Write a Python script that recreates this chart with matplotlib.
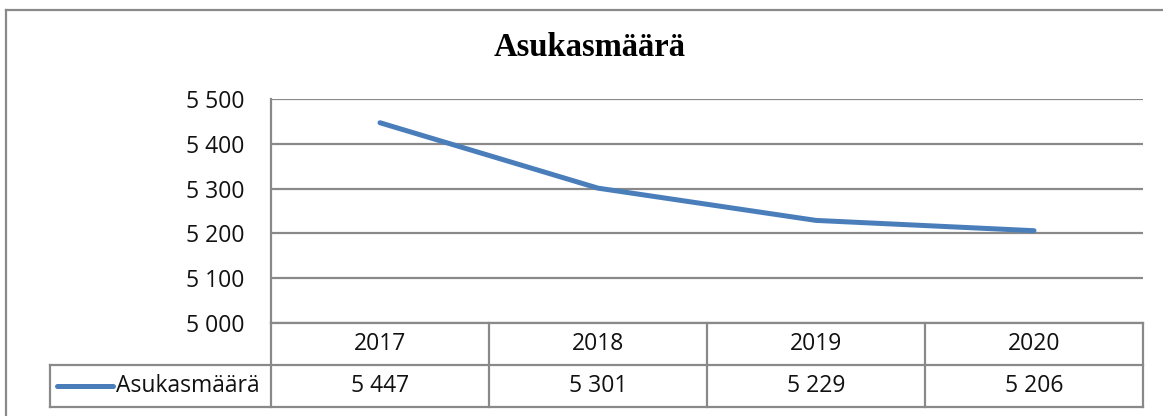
import matplotlib
matplotlib.use("Agg")
import matplotlib.pyplot as plt
from matplotlib.lines import Line2D
from matplotlib.transforms import blended_transform_factory

# data
years = ["2017", "2018", "2019", "2020"]
population = [5447, 5301, 5229, 5206]
series_name = "Asukasmäärä"
title = "Asukasmäärä"

W, H = 1163, 416
grid_col = "#898989"
line_col = "#4A7EBB"
sans = "Open Sans"
txt_col = "#111111"
fs = 16.5


def fmt(v):
    return f"{int(v):,}".replace(",", " ")


fig = plt.figure(figsize=(W / 100, H / 100), dpi=100)
fig.patch.set_facecolor("white")

# plot area in pixels: left 271, right 1143, top 99, bottom 323
ax = fig.add_axes([271 / W, (H - 323) / H, 872 / W, 224 / H])
x = list(range(len(years)))
ax.plot(x, population, color=line_col, lw=3.6, solid_capstyle="round",
        solid_joinstyle="round", zorder=3)

ax.set_xlim(-0.5, len(years) - 0.5)
ax.set_ylim(5000, 5500)
ax.set_yticks(range(5000, 5501, 100))
ax.set_yticklabels([fmt(v) for v in range(5000, 5501, 100)],
                   fontfamily=sans, fontsize=fs, color=txt_col)
ax.set_xticks([])
ax.tick_params(axis="y", length=0, pad=19)
for s in ["top", "right", "bottom"]:
    ax.spines[s].set_visible(False)
ax.spines["left"].set_color(grid_col)
ax.spines["left"].set_linewidth(1.6)
ax.grid(axis="y", color=grid_col, lw=1.6)
ax.set_axisbelow(True)

# data table below the plot
tr = blended_transform_factory(ax.transData, ax.transAxes)
row_h = 42 / 224
leg_left = -0.5 - (271 - 50) / 218
n = len(years)
kw = dict(color=grid_col, lw=1.6, transform=tr, clip_on=False)
ax.add_line(Line2D([-0.5, n - 0.5], [0, 0], **kw))
ax.add_line(Line2D([leg_left, n - 0.5], [-row_h, -row_h], **kw))
ax.add_line(Line2D([leg_left, n - 0.5], [-2 * row_h, -2 * row_h], **kw))
for i in range(n + 1):
    ax.add_line(Line2D([i - 0.5, i - 0.5], [0, -2 * row_h], **kw))
ax.add_line(Line2D([leg_left, leg_left], [-row_h, -2 * row_h], **kw))

for i, (yr, v) in enumerate(zip(years, population)):
    ax.text(i, -row_h / 2, yr, transform=tr, ha="center", va="center",
            fontfamily=sans, fontsize=fs, color=txt_col)
    ax.text(i, -1.5 * row_h, fmt(v), transform=tr, ha="center", va="center",
            fontfamily=sans, fontsize=fs, color=txt_col)

# legend key inside the table
kx0 = -0.5 - (271 - 57) / 218
kx1 = -0.5 - (271 - 113) / 218
ax.add_line(Line2D([kx0, kx1], [-1.5 * row_h, -1.5 * row_h], color=line_col,
                   lw=3.6, solid_capstyle="round", transform=tr, clip_on=False))
ax.text(-0.5 - (271 - 116) / 218, -1.5 * row_h, series_name, transform=tr,
        ha="left", va="center", fontfamily=sans, fontsize=fs, color=txt_col)

# title
fig.text(590 / W, 1 - 47 / H, title, ha="center", va="center",
         fontfamily="Liberation Serif", fontweight="bold", fontsize=23.5)

# outer chart border
fx = 5.5 / W
fy = 1 - 9.5 / H
fig.add_artist(Line2D([fx, 1], [fy, fy], color=grid_col, lw=1.6))
fig.add_artist(Line2D([fx, fx], [0, fy], color=grid_col, lw=1.6))

fig.savefig("out.png", dpi=100)
